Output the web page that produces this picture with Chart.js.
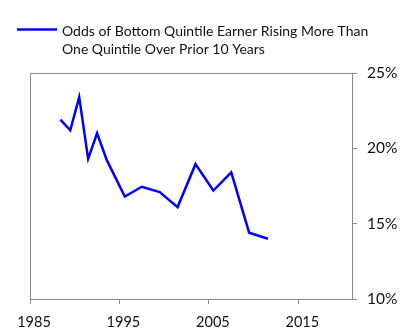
<!DOCTYPE html>
<html><head><meta charset="utf-8">
<script src="https://cdn.jsdelivr.net/npm/chart.js@4"></script>
<style>html,body{margin:0;padding:0;background:#fff}</style>
</head><body>
<canvas id="c" width="400" height="333"></canvas>
<script>
const seriesLabel = ['Odds of Bottom Quintile Earner Rising More Than', 'One Quintile Over Prior 10 Years'];
const years = [1988.4, 1989.5, 1990.5, 1991.5, 1992.5, 1993.6, 1995.6, 1997.5, 1999.5, 2001.5, 2003.5, 2005.5, 2007.5, 2009.5, 2011.6];
const values = [21.9, 21.2, 23.4, 19.3, 21.0, 19.2, 16.8, 17.45, 17.1, 16.1, 18.95, 17.2, 18.4, 14.4, 14.0];
const xTicks = [1985, 1995, 2005, 2015];
const yTicks = [10, 15, 20, 25];

const axisGray = '#8a8a8a';
const lineBlue = '#0000ff';
const textColor = '#111';
const fontFam = 'Lato, "Open Sans", sans-serif';

// draws the plot frame (top/left edges) and the two-line legend
const framePlugin = {
  id: 'frameAndLegend',
  afterDraw(chart) {
    const {ctx, chartArea: a} = chart;
    ctx.save();
    ctx.strokeStyle = axisGray;
    ctx.lineWidth = 1;
    ctx.beginPath();
    ctx.moveTo(a.left + 0.5, a.bottom);
    ctx.lineTo(a.left + 0.5, a.top + 0.5);
    ctx.lineTo(a.right, a.top + 0.5);
    ctx.stroke();
    // legend
    const lx = 17, ly = 29.5;
    ctx.strokeStyle = lineBlue;
    ctx.lineWidth = 2.5;
    ctx.beginPath();
    ctx.moveTo(lx, ly);
    ctx.lineTo(lx + 40, ly);
    ctx.stroke();
    ctx.fillStyle = textColor;
    ctx.font = '14px ' + fontFam;
    ctx.textBaseline = 'middle';
    ctx.textAlign = 'left';
    seriesLabel.forEach((t, i) => ctx.fillText(t, lx + 45, 31 + i * 18));
    ctx.restore();
  }
};

new Chart(document.getElementById('c'), {
  type: 'line',
  data: {
    datasets: [{
      label: seriesLabel.join(' '),
      data: years.map((y, i) => ({x: y, y: values[i]})),
      borderColor: lineBlue,
      backgroundColor: lineBlue,
      borderWidth: 2.5,
      pointRadius: 0,
      tension: 0
    }]
  },
  plugins: [framePlugin],
  options: {
    responsive: false,
    animation: false,
    devicePixelRatio: 1,
    layout: {padding: {left: 30, right: 0, top: 73, bottom: 0}},
    plugins: {
      tooltip: {enabled: false},
      legend: {display: false}
    },
    scales: {
      x: {
        type: 'linear',
        position: 'bottom',
        min: 1985, max: 2021,
        afterBuildTicks: (s) => { s.ticks = xTicks.map(v => ({value: v})); },
        afterFit: (s) => { s.height = 34; },
        grid: {display: true, drawOnChartArea: false, drawTicks: true, tickLength: 5, color: axisGray},
        border: {display: true, color: axisGray, width: 1},
        ticks: {color: textColor, font: {family: fontFam, size: 14.5}, padding: 10, maxRotation: 0,
          labelOffset: 4, callback: (v) => String(v)}
      },
      y: {
        type: 'linear',
        position: 'right',
        min: 10, max: 25,
        afterBuildTicks: (s) => { s.ticks = yTicks.map(v => ({value: v})); },
        afterFit: (s) => { s.width = 48; },
        grid: {display: true, drawOnChartArea: false, drawTicks: true, tickLength: 5, color: axisGray},
        border: {display: true, color: axisGray, width: 1},
        ticks: {color: textColor, font: {family: fontFam, size: 15.5}, padding: 10,
          callback: (v) => v + '%'}
      }
    }
  }
});
</script>
</body></html>
